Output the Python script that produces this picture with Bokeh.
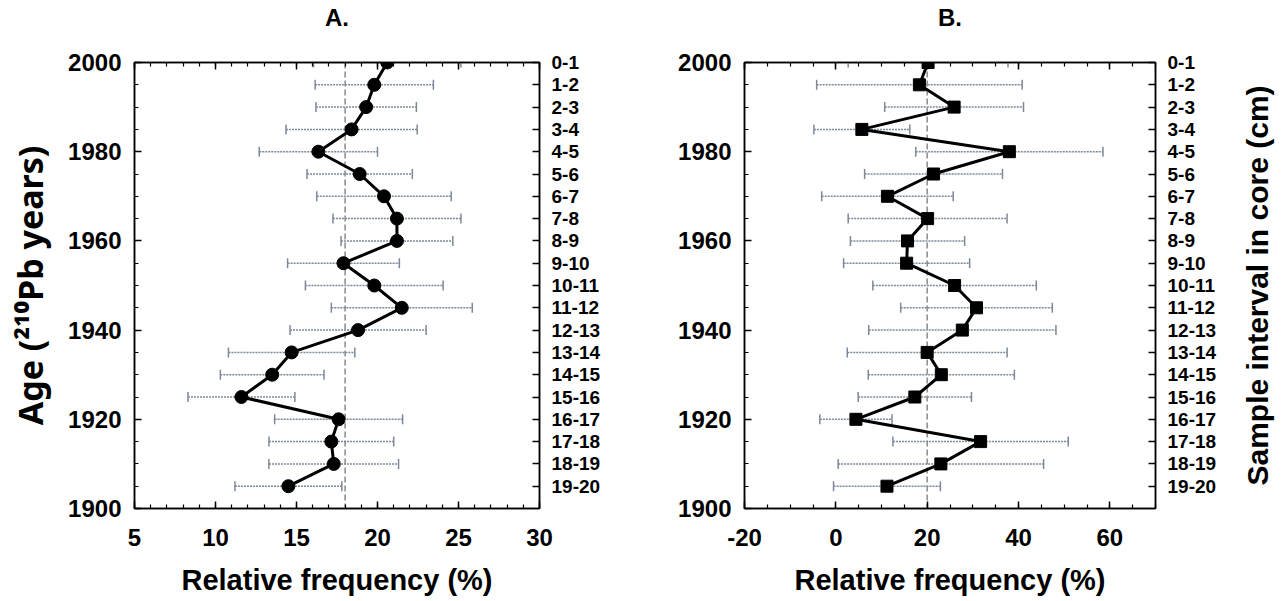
from bokeh.plotting import figure
from bokeh.layouts import row
from bokeh.models import (ColumnDataSource, Range1d, LinearAxis, SingleIntervalTicker,
                          FixedTicker, Whisker, TeeHead, Span, CustomJSTickFormatter)
from bokeh.embed import file_html
from bokeh.resources import INLINE

# ---------------- data ----------------
ages = [2000, 1995, 1990, 1985, 1980, 1975, 1970, 1965, 1960, 1955,
        1950, 1945, 1940, 1935, 1930, 1925, 1920, 1915, 1910, 1905]
intervals = ["0-1", "1-2", "2-3", "3-4", "4-5", "5-6", "6-7", "7-8", "8-9", "9-10",
             "10-11", "11-12", "12-13", "13-14", "14-15", "15-16", "16-17", "17-18",
             "18-19", "19-20"]

freq_a = [20.6, 19.8, 19.3, 18.4, 16.35, 18.9, 20.4, 21.2, 21.2, 17.9,
          19.8, 21.5, 18.8, 14.7, 13.5, 11.6, 17.6, 17.15, 17.3, 14.5]
err_a = [4.55, 3.65, 3.1, 4.05, 3.65, 3.25, 4.15, 3.95, 3.45, 3.45,
         4.25, 4.35, 4.2, 3.9, 3.2, 3.3, 3.95, 3.85, 4.0, 3.3]

freq_b = [20.2, 18.3, 25.9, 5.7, 38.0, 21.4, 11.3, 20.1, 15.7, 15.5,
          26.0, 30.8, 27.7, 20.0, 23.1, 17.3, 4.4, 31.7, 23.0, 11.2]
err_b = [17.5, 22.5, 15.2, 10.5, 20.5, 15.1, 14.4, 17.4, 12.5, 13.8,
         17.9, 16.6, 20.5, 17.5, 16.0, 12.4, 7.9, 19.2, 22.5, 11.7]

ref_a = 18.0
ref_b = 20.0

FONT = "Liberation Sans"
ERR_COLOR = "#7d8998"


def style_axis(ax, label_size="24px"):
    ax.axis_line_color = "black"
    ax.axis_line_width = 1.5
    ax.major_tick_line_color = "black"
    ax.major_tick_line_width = 1.5
    ax.minor_tick_line_color = "black"
    ax.minor_tick_line_width = 1.2
    ax.major_tick_in = 7
    ax.major_tick_out = 0
    ax.minor_tick_in = 4
    ax.minor_tick_out = 0
    ax.major_label_text_font = FONT
    ax.major_label_text_font_style = "bold"
    ax.major_label_text_font_size = label_size
    ax.major_label_text_color = "black"
    ax.axis_label_text_font = FONT
    ax.axis_label_text_font_style = "bold"
    ax.axis_label_text_font_size = "29px"
    ax.axis_label_text_color = "black"


def make_panel(title, xs, errs, xrange, x_int, x_minor, ref, marker, msize,
               width, border_left, border_right, left_title):
    p = figure(width=width, height=600, output_backend="svg", toolbar_location=None,
               x_range=Range1d(*xrange), y_range=Range1d(1900, 2000),
               min_border_left=border_left, min_border_right=border_right,
               min_border_top=62, min_border_bottom=92)
    p.xgrid.visible = False
    p.ygrid.visible = False
    p.outline_line_color = "black"
    p.outline_line_width = 1.5
    p.background_fill_color = "white"
    p.border_fill_color = "white"

    # bottom x axis
    xa = p.xaxis[0]
    xa.ticker = SingleIntervalTicker(interval=x_int, num_minor_ticks=x_minor)
    xa.formatter = CustomJSTickFormatter(code="return tick.toString()")
    xa.axis_label = "Relative frequency (%)"
    xa.major_label_standoff = 20
    xa.axis_label_standoff = 15
    style_axis(xa)

    # left y axis
    ya = p.yaxis[0]
    ya.ticker = SingleIntervalTicker(interval=20, num_minor_ticks=4)
    ya.major_label_standoff = 13
    style_axis(ya)
    if left_title:
        ya.axis_label = left_title
        ya.axis_label_standoff = 12
        ya.axis_label_text_font = "Noto Sans"
        ya.axis_label_text_font_size = "34px"

    # top axis (ticks only) carrying the panel title
    top = LinearAxis(ticker=SingleIntervalTicker(interval=x_int, num_minor_ticks=x_minor),
                     formatter=CustomJSTickFormatter(code="return ''"))
    style_axis(top)
    top.major_label_standoff = 0
    top.axis_label = title
    top.axis_label_text_font_size = "24px"
    top.axis_label_standoff = 32
    p.add_layout(top, "above")

    # right axis with sample intervals
    right = LinearAxis(ticker=FixedTicker(ticks=ages, minor_ticks=[]))
    right.major_label_overrides = {a: lab for a, lab in zip(ages, intervals)}
    style_axis(right, label_size="19px")
    right.major_label_standoff = 12
    p.add_layout(right, "right")

    # reference line
    p.add_layout(Span(location=ref, dimension="height", line_color="#8a8a8a",
                      line_dash="6 3", line_width=1.5, level="underlay"))

    src = ColumnDataSource(dict(
        y=ages, x=xs,
        lo=[v - e for v, e in zip(xs, errs)],
        hi=[v + e for v, e in zip(xs, errs)],
    ))
    w = Whisker(source=src, base="y", lower="lo", upper="hi", dimension="width",
                line_color=ERR_COLOR, line_width=1.5, line_dash="2 1",
                lower_head=TeeHead(size=10, line_color=ERR_COLOR, line_width=1.5),
                upper_head=TeeHead(size=10, line_color=ERR_COLOR, line_width=1.5))
    p.add_layout(w)

    p.line("x", "y", source=src, line_color="black", line_width=3)
    p.scatter("x", "y", source=src, marker=marker, size=msize,
              fill_color="black", line_color="black")
    return p


pA = make_panel("A.", freq_a, err_a, (5, 30), 5, 5, ref_a, "circle", 13,
                626, 134, 87, "Age (²¹⁰Pb years)")
pB = make_panel("B.", freq_b, err_b, (-20, 70), 20, 4, ref_b, "square", 12,
                596, 118, 67, None)

# narrow strip carrying the right-hand axis title (reads bottom to top)
pC = figure(width=58, height=600, output_backend="svg", toolbar_location=None,
            x_range=Range1d(0, 1), y_range=Range1d(1900, 2000), x_axis_location=None,
            min_border_left=57, min_border_right=0, min_border_top=62, min_border_bottom=92)
pC.outline_line_color = None
pC.xgrid.visible = False
pC.ygrid.visible = False
pC.background_fill_color = "white"
pC.border_fill_color = "white"
yc = pC.yaxis[0]
yc.formatter = CustomJSTickFormatter(code="return ''")
yc.axis_line_color = None
yc.major_tick_line_color = None
yc.minor_tick_line_color = None
yc.major_label_standoff = 0
yc.axis_label = "Sample interval in core (cm)"
yc.axis_label_standoff = 0
yc.axis_label_text_font = FONT
yc.axis_label_text_font_style = "bold"
yc.axis_label_text_font_size = "30px"
yc.axis_label_text_color = "black"

layout = row(pA, pB, pC)
open("out.html", "w").write(file_html(layout, INLINE))
